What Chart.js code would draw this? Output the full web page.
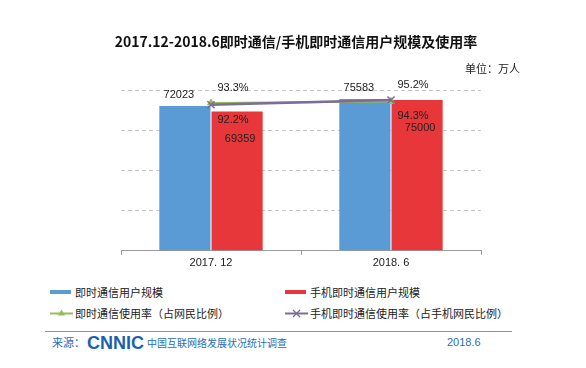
<!DOCTYPE html>
<html><head><meta charset="utf-8">
<script src="https://cdn.jsdelivr.net/npm/chart.js@4/dist/chart.umd.min.js"></script>
<style>
html,body{margin:0;padding:0;background:#fff;}
#wrap{position:relative;width:586px;height:368px;overflow:hidden;background:#fff;font-family:"Liberation Sans","Noto Sans CJK SC",sans-serif;}
#title{position:absolute;left:3px;width:586px;top:31px;text-align:center;font-family:"Noto Sans CJK SC",sans-serif;font-weight:bold;font-size:14px;color:#111;line-height:20px;}
#unit{position:absolute;left:465px;top:60px;font-size:11px;color:#222;font-family:"Noto Sans CJK SC",sans-serif;line-height:16px;}
#cv{position:absolute;left:0;top:0;}
.lg{position:absolute;font-size:11px;color:#222;font-family:"Noto Sans CJK SC",sans-serif;line-height:16px;white-space:nowrap;}
.lg svg{position:absolute;left:0;top:0;}
.lg span{position:absolute;left:25px;top:0;}
#rule{position:absolute;left:45px;width:467px;top:331px;height:1px;background:#8595ab;}
#src{position:absolute;left:52px;top:334px;font-size:10px;color:#2a6db5;font-family:"Noto Sans CJK SC",sans-serif;line-height:16px;white-space:nowrap;}
#src .s{font-size:11px;}
#src b{font-family:"Liberation Sans",sans-serif;font-weight:900;font-size:18px;color:#1b5faf;vertical-align:-2px;margin:0 3px 0 2px;}
#date{position:absolute;left:447px;top:334px;font-size:11px;color:#2a6db5;line-height:16px;}
</style></head>
<body><div id="wrap">
<canvas id="cv" width="586" height="280"></canvas>
<div id="title">2017.12-2018.6即时通信/手机即时通信用户规模及使用率</div>
<div id="unit">单位：万人</div>
<div id="legend"></div>
<div id="rule"></div>
<div id="src"><span class="s">来源：</span><b>CNNIC</b>中国互联网络发展状况统计调查</div>
<div id="date">2018.6</div>
</div>
<script>
const categories = ['2017. 12', '2018. 6'];
const seriesNames = ['即时通信用户规模', '手机即时通信用户规模', '即时通信使用率（占网民比例）', '手机即时通信使用率（占手机网民比例）'];
const imUsers = [72023, 75583];
const mobileImUsers = [69359, 75000];
const imRate = [93.3, 94.3];
const mobileImRate = [92.2, 95.2];

const BLUE = '#5b9bd5', RED = '#e8373a', GREEN = '#9bbb59', PURPLE = '#7c6c98';

const labelPlugin = {
  id: 'labels',
  afterDatasetsDraw(chart) {
    const ctx = chart.ctx;
    ctx.save();
    ctx.font = '11px "Liberation Sans", sans-serif';
    ctx.fillStyle = '#222';
    ctx.textAlign = 'center';
    ctx.textBaseline = 'middle';
    const ds = chart.data.datasets;
    const m0 = chart.getDatasetMeta(0), m1 = chart.getDatasetMeta(1);
    m0.data.forEach((el, i) => ctx.fillText(String(ds[0].data[i]), el.x - 6, el.y - 11));
    m1.data.forEach((el, i) => ctx.fillText(String(ds[1].data[i]), el.x + 3, el.y + 28));
    const m2 = chart.getDatasetMeta(2), m3 = chart.getDatasetMeta(3);
    for (let i = 0; i < categories.length; i++) {
      const a = ds[2].data[i], b = ds[3].data[i];
      const pairs = [[m2.data[i], a, a >= b], [m3.data[i], b, b > a]];
      pairs.forEach(([el, v, up]) => {
        ctx.fillText(v.toFixed(1) + '%', el.x + 22, up ? el.y - 15 : el.y + 15);
      });
    }
    ctx.restore();
  }
};

const chart = new Chart(document.getElementById('cv'), {
  type: 'bar',
  data: {
    labels: categories,
    datasets: [
      { type: 'bar', label: seriesNames[0], data: imUsers, backgroundColor: BLUE, yAxisID: 'y', order: 2, barPercentage: 0.98, categoryPercentage: 0.58 },
      { type: 'bar', label: seriesNames[1], data: mobileImUsers, backgroundColor: RED, yAxisID: 'y', order: 3, barPercentage: 0.98, categoryPercentage: 0.58 },
      { type: 'line', label: seriesNames[2], data: imRate, borderColor: GREEN, backgroundColor: GREEN, borderWidth: 2, pointStyle: 'triangle', pointRadius: 4, pointBorderWidth: 1, yAxisID: 'y1', order: 1, tension: 0 },
      { type: 'line', label: seriesNames[3], data: mobileImRate, borderColor: PURPLE, backgroundColor: PURPLE, borderWidth: 2.5, pointStyle: 'crossRot', pointRadius: 5, pointBorderWidth: 1.5, yAxisID: 'y1', order: 0, tension: 0 }
    ]
  },
  options: {
    responsive: false,
    animation: false,
    events: [],
    layout: { padding: { left: 121, right: 105, top: 90, bottom: 8 } },
    plugins: { legend: { display: false }, tooltip: { enabled: false }, title: { display: false } },
    scales: {
      x: {
        grid: { display: true, drawOnChartArea: false, drawTicks: true, tickLength: 4, color: '#999', offset: true },
        border: { display: true, color: '#999', width: 1 },
        ticks: { color: '#222', font: { size: 11, family: '"Liberation Sans", sans-serif' }, padding: 2 }
      },
      y: {
        min: 0, max: 80000,
        ticks: { display: false, stepSize: 20000 },
        border: { display: false, dash: [4, 3] },
        grid: { drawTicks: false, color: c => c.tick.value === 0 ? 'rgba(0,0,0,0)' : '#c8c8c8' }
      },
      y1: { display: false, min: 0, max: 101.5, position: 'right' }
    }
  },
  plugins: [labelPlugin]
});

const lg = document.getElementById('legend');
const pos = [[50, 284], [285, 284], [50, 305], [285, 305]];
chart.data.datasets.forEach((d, i) => {
  const div = document.createElement('div');
  div.className = 'lg';
  div.style.left = pos[i][0] + 'px';
  div.style.top = pos[i][1] + 'px';
  let svg;
  if (d.type === 'bar') {
    svg = `<svg width="22" height="16"><rect x="0" y="6" width="21" height="4" fill="${d.backgroundColor}"/></svg>`;
  } else if (d.pointStyle === 'triangle') {
    svg = `<svg width="24" height="16"><line x1="0" y1="8.5" x2="23" y2="8.5" stroke="${d.borderColor}" stroke-width="2"/><polygon points="11.5,4.5 15,10.5 8,10.5" fill="${d.borderColor}"/></svg>`;
  } else {
    svg = `<svg width="24" height="16"><line x1="0" y1="8.5" x2="23" y2="8.5" stroke="${d.borderColor}" stroke-width="2"/><path d="M8,5 L15,12 M15,5 L8,12" stroke="${d.borderColor}" stroke-width="1.3"/></svg>`;
  }
  div.innerHTML = svg + `<span>${d.label}</span>`;
  lg.appendChild(div);
});
</script>
</body></html>
